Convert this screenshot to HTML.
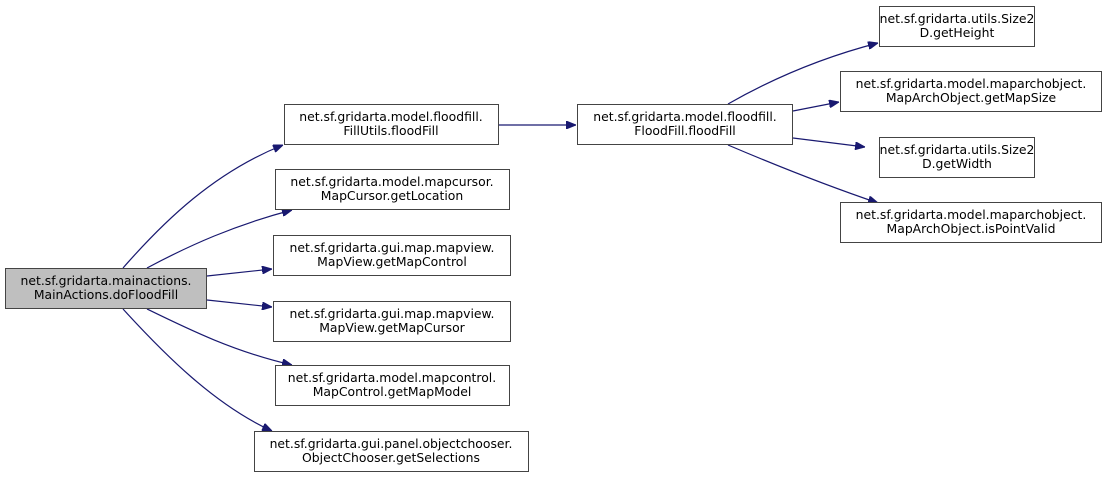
<!DOCTYPE html>
<html><head><meta charset="utf-8"><style>body{margin:0;background:#fff}</style></head><body>
<svg width="1108" height="477" xmlns="http://www.w3.org/2000/svg" font-family="DejaVu Sans, Liberation Sans, sans-serif" font-size="12.4">
<defs><marker id="a" markerWidth="10" markerHeight="8" refX="10" refY="4" orient="auto" markerUnits="userSpaceOnUse"><path d="M0,0 L10,4 L0,8 z" fill="#191970" stroke="#191970"/></marker></defs>
<g fill="none" stroke="#191970" stroke-width="1.2" marker-end="url(#a)">
<path d="M123,268 C165,220 215,172 283,145"/>
<path d="M147,268 C190,245 235,225 292,210"/>
<path d="M207,276 L272,269"/>
<path d="M207,300 L272,307"/>
<path d="M147,309 C190,330 235,352 292,365"/>
<path d="M123,309 C165,355 215,405 272,431"/>
<path d="M498,125 L576,125"/>
<path d="M728,104 C770,80 820,58 878,43"/>
<path d="M793,111 L839,102"/>
<path d="M793,138 L865,147"/>
<path d="M728,145 C775,165 825,185 878,203"/>
</g>
<g stroke="#444" stroke-width="1">
<rect x="5.5" y="268.5" width="201" height="40" fill="#bfbfbf"/>
<rect x="284.5" y="104.5" width="214" height="40" fill="#fff"/>
<rect x="275.5" y="169.5" width="234" height="40" fill="#fff"/>
<rect x="273.5" y="235.5" width="237" height="40" fill="#fff"/>
<rect x="273.5" y="301.5" width="237" height="40" fill="#fff"/>
<rect x="275.5" y="365.5" width="234" height="40" fill="#fff"/>
<rect x="254.5" y="431.5" width="274" height="40" fill="#fff"/>
<rect x="577.5" y="104.5" width="215" height="40" fill="#fff"/>
<rect x="879.5" y="6.5" width="155" height="40" fill="#fff"/>
<rect x="840.5" y="71.5" width="261" height="40" fill="#fff"/>
<rect x="879.5" y="137.5" width="155" height="40" fill="#fff"/>
<rect x="840.5" y="202.5" width="261" height="40" fill="#fff"/>
</g>
<g text-anchor="middle" fill="#000">
<text x="106" y="285">net.sf.gridarta.mainactions.</text><text x="106" y="299">MainActions.doFloodFill</text>
<text x="391" y="121">net.sf.gridarta.model.floodfill.</text><text x="391" y="135">FillUtils.floodFill</text>
<text x="392" y="186">net.sf.gridarta.model.mapcursor.</text><text x="392" y="200">MapCursor.getLocation</text>
<text x="392" y="252">net.sf.gridarta.gui.map.mapview.</text><text x="392" y="266">MapView.getMapControl</text>
<text x="392" y="318">net.sf.gridarta.gui.map.mapview.</text><text x="392" y="332">MapView.getMapCursor</text>
<text x="392" y="382">net.sf.gridarta.model.mapcontrol.</text><text x="392" y="396">MapControl.getMapModel</text>
<text x="391" y="448">net.sf.gridarta.gui.panel.objectchooser.</text><text x="391" y="462">ObjectChooser.getSelections</text>
<text x="685" y="121">net.sf.gridarta.model.floodfill.</text><text x="685" y="135">FloodFill.floodFill</text>
<text x="957" y="23">net.sf.gridarta.utils.Size2</text><text x="957" y="37">D.getHeight</text>
<text x="971" y="88">net.sf.gridarta.model.maparchobject.</text><text x="971" y="102">MapArchObject.getMapSize</text>
<text x="957" y="154">net.sf.gridarta.utils.Size2</text><text x="957" y="168">D.getWidth</text>
<text x="971" y="219">net.sf.gridarta.model.maparchobject.</text><text x="971" y="233">MapArchObject.isPointValid</text>
</g>
</svg>
</body></html>
